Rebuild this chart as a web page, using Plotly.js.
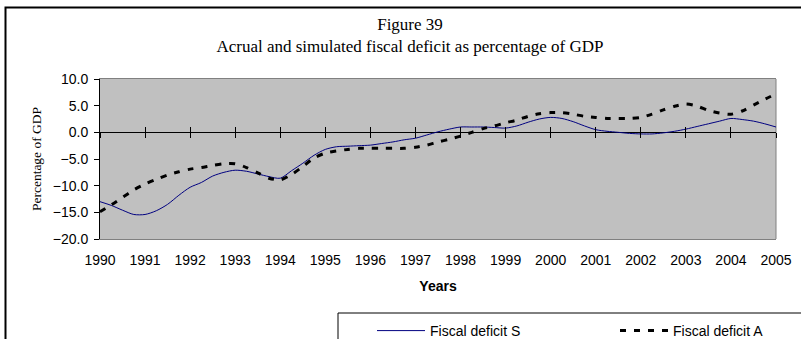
<!DOCTYPE html>
<html>
<head>
<meta charset="utf-8">
<script src="https://cdn.plot.ly/plotly-3.0.1.min.js"></script>
<style>html,body{margin:0;padding:0;background:#fff;}#chart{width:801px;height:339px;}</style>
</head>
<body>
<div id="chart"></div>
<script>
// Time points (quarters)
const periods = [
 1990.0,1990.25,1990.5,1990.75,1991.0,1991.25,1991.5,1991.75,
 1992.0,1992.25,1992.5,1992.75,1993.0,1993.25,1993.5,1993.75,
 1994.0,1994.25,1994.5,1994.75,1995.0,1995.25,1995.5,1995.75,
 1996.0,1996.25,1996.5,1996.75,1997.0,1997.25,1997.5,1997.75,
 1998.0,1998.25,1998.5,1998.75,1999.0,1999.25,1999.5,1999.75,
 2000.0,2000.25,2000.5,2000.75,2001.0,2001.25,2001.5,2001.75,
 2002.0,2002.25,2002.5,2002.75,2003.0,2003.25,2003.5,2003.75,
 2004.0,2004.25,2004.5,2004.75,2005.0
];
// Fiscal deficit S (simulated)
const deficitS = [
 -13.0,-13.7,-14.6,-15.4,-15.4,-14.7,-13.5,-11.8,
 -10.3,-9.4,-8.2,-7.5,-7.1,-7.3,-7.8,-8.3,
 -8.6,-7.2,-5.8,-4.3,-3.2,-2.7,-2.6,-2.5,
 -2.4,-2.1,-1.8,-1.4,-1.1,-0.5,0.1,0.6,
 1.0,1.0,1.0,0.9,0.8,1.2,1.9,2.5,
 2.8,2.6,2.0,1.2,0.5,0.2,0.0,-0.2,
 -0.3,-0.3,-0.1,0.2,0.6,1.1,1.6,2.1,
 2.6,2.4,2.1,1.6,1.0
];
// Fiscal deficit A (actual)
const deficitA = [
 -14.9,-13.6,-12.2,-10.8,-9.7,-8.8,-8.0,-7.4,
 -6.9,-6.6,-6.2,-5.9,-5.9,-6.6,-7.6,-8.6,
 -8.9,-7.9,-6.4,-4.8,-3.9,-3.5,-3.2,-3.0,
 -3.0,-3.0,-3.0,-3.0,-2.8,-2.4,-1.8,-1.3,
 -0.7,0.0,0.7,1.2,1.8,2.3,3.0,3.5,
 3.7,3.7,3.4,3.0,2.8,2.6,2.6,2.6,
 2.8,3.4,4.2,4.9,5.3,4.9,4.1,3.6,
 3.4,4.0,5.1,6.2,7.2
];
const years = [1990,1991,1992,1993,1994,1995,1996,1997,1998,1999,2000,2001,2002,2003,2004,2005];
const yearLabels = years.map(String);
const yTicks = [-20,-15,-10,-5,0,5,10];
const seriesNames = ['Fiscal deficit S','Fiscal deficit A'];
const titleText = 'Figure 39<br>Acrual and simulated fiscal deficit as percentage of GDP';

const yMin = -20, yMax = 10;
const zeroPos = (0 - yMin) / (yMax - yMin);

const traces = [
  {x: periods, y: deficitS, name: seriesNames[0], type: 'scatter', mode: 'lines',
   line: {color: '#000080', width: 1, shape: 'spline', smoothing: 0.8}, hoverinfo: 'skip'},
  {x: periods, y: deficitA, name: seriesNames[1], type: 'scatter', mode: 'lines',
   line: {color: '#000000', width: 3, dash: '6px,8px', shape: 'spline', smoothing: 0.8}, hoverinfo: 'skip'},
  // helper traces so the crossing tick axes at zero are drawn
  {x: years, y: years.map(() => 0), xaxis: 'x2', yaxis: 'y', mode: 'lines', line: {width: 0}, showlegend: false, hoverinfo: 'skip'},
  {x: years, y: years.map(() => 0), xaxis: 'x3', yaxis: 'y', mode: 'lines', line: {width: 0}, showlegend: false, hoverinfo: 'skip'}
];

const serif = '"Liberation Serif", "Times New Roman", serif';
const sans = '"Liberation Sans", Arial, sans-serif';
const W = 801, H = 339;
const px = v => (v - 100) / 676;
const py = v => (239 - v) / 160;

const layout = {
  width: W, height: H,
  margin: {l: 100, r: 25, t: 79, b: 100, pad: 0, autoexpand: false},
  paper_bgcolor: '#ffffff',
  plot_bgcolor: '#c0c0c0',
  showlegend: true,
  title: {text: titleText, font: {family: serif, size: 17, color: '#000'},
          x: 410/W, xref: 'container', xanchor: 'center', y: 1 - 30/H, yref: 'container', yanchor: 'top'},
  xaxis: {range: [1990, 2005], tickvals: years, ticktext: yearLabels, ticks: '',
          showgrid: false, zeroline: false, showline: true, linecolor: '#808080', linewidth: 1, mirror: true,
          tickfont: {family: sans, size: 14, color: '#000'}, ticklabelstandoff: 8,
          title: {text: '<b>Years</b>', font: {family: sans, size: 14, color: '#000'}, standoff: 14}},
  xaxis2: {range: [1990, 2005], overlaying: 'x', anchor: 'free', position: zeroPos, tickvals: years,
           ticks: 'outside', ticklen: 5, tickcolor: '#000', tickwidth: 1, showticklabels: false,
           showgrid: false, zeroline: false, showline: false},
  xaxis3: {range: [1990, 2005], overlaying: 'x', anchor: 'free', position: zeroPos, tickvals: years,
           ticks: 'inside', ticklen: 5, tickcolor: '#000', tickwidth: 1, showticklabels: false,
           showgrid: false, zeroline: false, showline: false},
  yaxis: {range: [yMin, yMax], tickvals: yTicks, tickformat: '.1f', ticks: 'outside', ticklen: 5,
          tickcolor: '#000', showgrid: false, zeroline: true, zerolinecolor: '#000', zerolinewidth: 1.2,
          showline: true, linecolor: '#000', linewidth: 1,
          tickfont: {family: sans, size: 14, color: '#000'}, ticklabelstandoff: 3,
          title: {text: 'Percentage of GDP', font: {family: serif, size: 13.5, color: '#000'}, standoff: 8}},
  legend: {orientation: 'h', xref: 'container', yref: 'container', x: 372/W, xanchor: 'left', y: 1 - 315/H, yanchor: 'top',
           bgcolor: 'rgba(0,0,0,0)', borderwidth: 0, itemwidth: 48, entrywidth: 180, entrywidthmode: 'pixels',
           font: {family: sans, size: 14, color: '#000'}, traceorder: 'normal'},
  shapes: [
    // right border of plot area (gray)
    {type: 'line', xref: 'paper', yref: 'paper', x0: 1, x1: 1, y0: 0, y1: 1, line: {color: '#808080', width: 1}, layer: 'below'},
    // outer chart frame
    {type: 'rect', xref: 'paper', yref: 'paper', x0: px(5.5), x1: px(840), y0: py(7.5), y1: py(400), line: {color: '#000', width: 2}, fillcolor: 'rgba(0,0,0,0)'},
    // legend box
    {type: 'rect', xref: 'paper', yref: 'paper', x0: px(338), x1: px(840), y0: py(313), y1: py(400), line: {color: '#000', width: 1}, fillcolor: 'rgba(0,0,0,0)'}
  ]
};

Plotly.newPlot('chart', traces, layout, {staticPlot: true, displayModeBar: false});
</script>
</body>
</html>
